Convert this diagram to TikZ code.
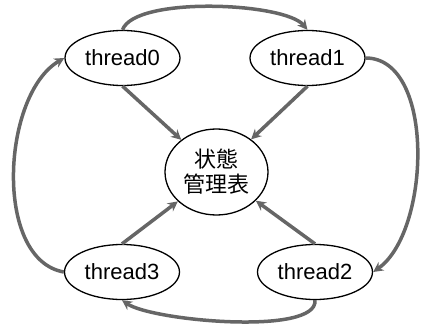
\documentclass[tikz,border=0pt]{standalone}
\usepackage{fontspec}
\setmainfont{Liberation Sans}
\newfontfamily\jpfont{Noto Sans CJK JP}
\usetikzlibrary{shapes.geometric,arrows.meta}
\definecolor{arrowgray}{HTML}{666666}

\begin{document}
\begin{tikzpicture}[x=1pt, y=1pt,
  thr/.style={ellipse, draw, line width=1.3pt, minimum width=115pt, minimum height=55pt, inner sep=0pt, font=\fontsize{22}{26}\selectfont},
  tbl/.style={ellipse, draw, line width=1.3pt, minimum width=103pt, minimum height=86pt, inner sep=0pt, align=center, font=\jpfont\fontsize{22}{25}\selectfont},
  arr/.style={-{Stealth[length=10pt, width=10pt]}, line width=3.5pt, arrowgray}
]
  \useasboundingbox (0,0) rectangle (421,-324);

  \node[thr] (th0) at (122.5,-58) {thread0};
  \node[thr] (th1) at (307.5,-58) {thread1};
  \node[thr] (th2) at (315,-272)  {thread2};
  \node[thr] (th3) at (122,-272)  {thread3};
  \node[tbl] (table) at (216.5,-172) {状態\\管理表};

  % every thread writes into the table
  \draw[arr] (th0.south) -- (table);
  \draw[arr] (th1.south) -- (table);
  \draw[arr] (th2.north) -- (table);
  \draw[arr] (th3.north) -- (table);

  % ring 0 -> 1 -> 2 -> 3 -> 0
  \draw[arr] (th0.north) to[out=70, in=130, distance=36pt] (th1.north);
  \draw[arr] (th1.east) to[out=0, in=35, distance=70pt] (th2.east);
  \draw[arr] (th2.south) to[out=-85, in=-35, distance=36pt] (th3.south);
  \draw[arr] (th3.west) to[out=170, in=210, distance=72pt] (th0.west);
\end{tikzpicture}
\end{document}
